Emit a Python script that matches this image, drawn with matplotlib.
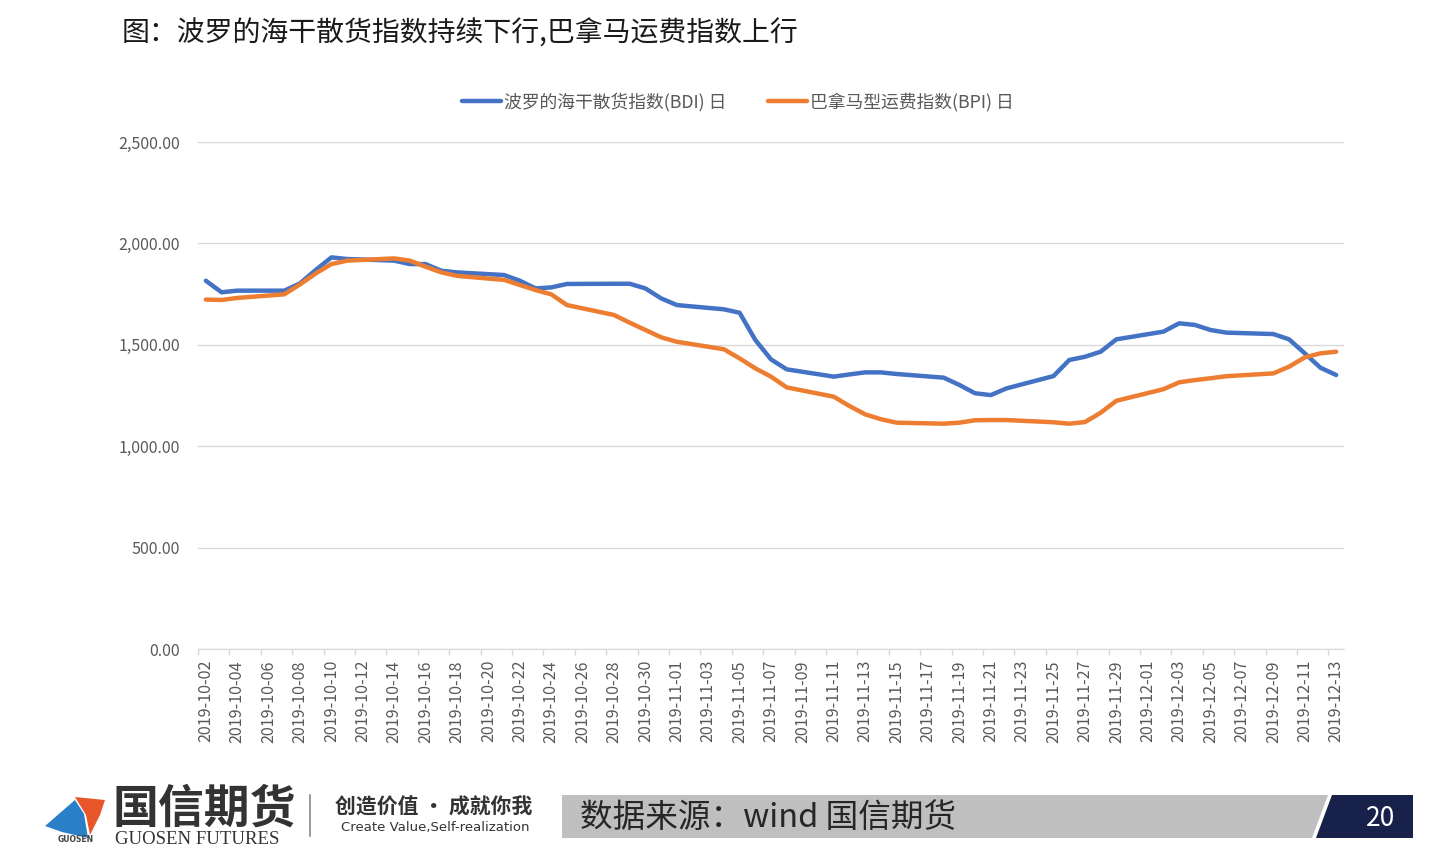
import matplotlib
matplotlib.use('Agg')
import matplotlib.pyplot as plt
import matplotlib.dates as mdates
from matplotlib.patches import Polygon
from matplotlib.lines import Line2D
import numpy as np
import pandas as pd

plt.rcParams['font.family'] = ['Noto Sans CJK SC', 'DejaVu Sans']

# trading days shown on the chart
dates = ['2019-10-02', '2019-10-03', '2019-10-04', '2019-10-07', '2019-10-08',
         '2019-10-09', '2019-10-10', '2019-10-11', '2019-10-14', '2019-10-15',
         '2019-10-16', '2019-10-17', '2019-10-18', '2019-10-21', '2019-10-22',
         '2019-10-23', '2019-10-24', '2019-10-25', '2019-10-28', '2019-10-29',
         '2019-10-30', '2019-10-31',
         '2019-11-01', '2019-11-04', '2019-11-05', '2019-11-06', '2019-11-07',
         '2019-11-08', '2019-11-11', '2019-11-12', '2019-11-13', '2019-11-14',
         '2019-11-15', '2019-11-18', '2019-11-19', '2019-11-20', '2019-11-21',
         '2019-11-22', '2019-11-25', '2019-11-26', '2019-11-27', '2019-11-28',
         '2019-11-29',
         '2019-12-02', '2019-12-03', '2019-12-04', '2019-12-05', '2019-12-06',
         '2019-12-09', '2019-12-10', '2019-12-11', '2019-12-12', '2019-12-13']

bdi = [1816, 1759, 1767, 1767, 1803, 1869, 1931, 1923, 1915, 1898, 1898,
       1865, 1857, 1844, 1816, 1778, 1783, 1800, 1801, 1801, 1778, 1729,
       1696, 1675, 1658, 1524, 1428, 1379, 1343, 1354, 1364, 1364, 1356,
       1338, 1302, 1261, 1252, 1285, 1346, 1425, 1441, 1466, 1527,
       1565, 1606, 1598, 1573, 1560, 1553, 1527, 1458, 1387, 1351]

bpi = [1723, 1721, 1731, 1749, 1798, 1852, 1898, 1915, 1926, 1915, 1885,
       1857, 1840, 1820, 1795, 1770, 1749, 1696, 1647, 1609, 1573, 1537,
       1515, 1478, 1433, 1384, 1343, 1290, 1244, 1198, 1157, 1133, 1116,
       1111, 1116, 1128, 1129, 1129, 1118, 1111, 1119, 1165, 1224,
       1281, 1315, 1326, 1335, 1345, 1359, 1392, 1438, 1458, 1466]

yticks = [0, 500, 1000, 1500, 2000, 2500]
title = '图：波罗的海干散货指数持续下行,巴拿马运费指数上行'
label_bdi = '波罗的海干散货指数(BDI) 日'
label_bpi = '巴拿马型运费指数(BPI) 日'

W, H = 1440, 857


def fx(px):
    return px / W


def fy(py):
    return 1 - py / H


fig = plt.figure(figsize=(14.4, 8.57), dpi=100)
ax = fig.add_axes([fx(198), fy(649), fx(1344) - fx(198), fy(142) - fy(649)])

x = mdates.date2num(pd.to_datetime(dates))
ax.plot(x, bdi, color='#4472C4', lw=3.2, label=label_bdi,
        solid_joinstyle='round', solid_capstyle='round', zorder=3)
ax.plot(x, bpi, color='#ED7D31', lw=3.2, label=label_bpi,
        solid_joinstyle='round', solid_capstyle='round', zorder=3)

ax.set_xlim(x[0] - 0.5, x[-1] + 0.5)
ax.set_ylim(0, 2500)

# x axis: label every 2 days, tick marks on slot boundaries
tick_days = mdates.date2num(pd.date_range(dates[0], dates[-1], freq='2D'))
ax.set_xticks(tick_days)
ax.set_xticklabels([mdates.num2date(t).strftime('%Y-%m-%d') for t in tick_days],
                   rotation=90, fontsize=11.6, color='#595959')
ax.set_xticks(tick_days - 0.5, minor=True)
ax.tick_params(axis='x', which='major', length=0, pad=8)
ax.tick_params(axis='x', which='minor', length=4, color='#d9d9d9', width=1)

ax.set_yticks(yticks)
ax.set_yticklabels(['{:,.2f}'.format(v) for v in yticks], fontsize=11.5, color='#595959')
ax.tick_params(axis='y', length=0, pad=13)

ax.yaxis.grid(True, color='#d9d9d9', lw=1)
ax.set_axisbelow(True)
for s in ['top', 'right', 'left']:
    ax.spines[s].set_visible(False)
ax.spines['bottom'].set_color('#d9d9d9')

fig.legend(loc='center', bbox_to_anchor=(fx(738), fy(102)), ncol=2, frameon=False,
           fontsize=12.8, handlelength=2.2, handletextpad=0.2, columnspacing=2.3,
           labelcolor='#595959')

fig.text(fx(122), fy(34), title, fontsize=20.1, color='#1a1a1a', va='center', ha='left')

# footer: logo
fig.add_artist(Polygon([(fx(45), fy(826)), (fx(75), fy(800)), (fx(84), fy(814)),
                        (fx(88), fy(838)), (fx(62), fy(832))],
                       closed=True, transform=fig.transFigure, color='#2a7fc9', lw=0))
fig.add_artist(Polygon([(fx(75), fy(797)), (fx(105), fy(800)), (fx(100), fy(815)),
                        (fx(90), fy(835)), (fx(86), fy(815))],
                       closed=True, transform=fig.transFigure, color='#e8562a', lw=0))
fig.text(fx(76), fy(840), 'GUOSEN', fontsize=5.5, color='#444444', ha='center',
         va='center', family='DejaVu Sans', weight='bold')
fig.text(fx(113), fy(810), '国信期货', fontsize=33, color='#333333', ha='left',
         va='center', weight='bold')
fig.text(fx(115), fy(840), 'GUOSEN FUTURES', fontsize=13.5, color='#333333',
         ha='left', va='center', family='Liberation Serif')
fig.add_artist(Line2D([fx(310), fx(310)], [fy(795), fy(836)], transform=fig.transFigure,
                      color='#888888', lw=1.2))
fig.text(fx(434), fy(807), '创造价值 · 成就你我', fontsize=15, color='#333333',
         ha='center', va='center', weight='bold')
fig.text(fx(435), fy(828), 'Create Value,Self-realization', fontsize=9.5,
         color='#333333', ha='center', va='center', family='DejaVu Sans')

# footer: source banner and page number
fig.add_artist(Polygon([(fx(562), fy(795)), (fx(1328), fy(795)), (fx(1312), fy(838)),
                        (fx(562), fy(838))],
                       closed=True, transform=fig.transFigure, color='#bfbfbf', lw=0))
fig.add_artist(Polygon([(fx(1332), fy(795)), (fx(1413), fy(795)), (fx(1413), fy(838)),
                        (fx(1316), fy(838))],
                       closed=True, transform=fig.transFigure, color='#17214a', lw=0))
fig.text(fx(580), fy(818), '数据来源：wind 国信期货', fontsize=23.5, color='#262626',
         ha='left', va='center')
fig.text(fx(1381), fy(818), '20', fontsize=19, color='white', ha='center', va='center')

fig.savefig('out.png', dpi=100)
